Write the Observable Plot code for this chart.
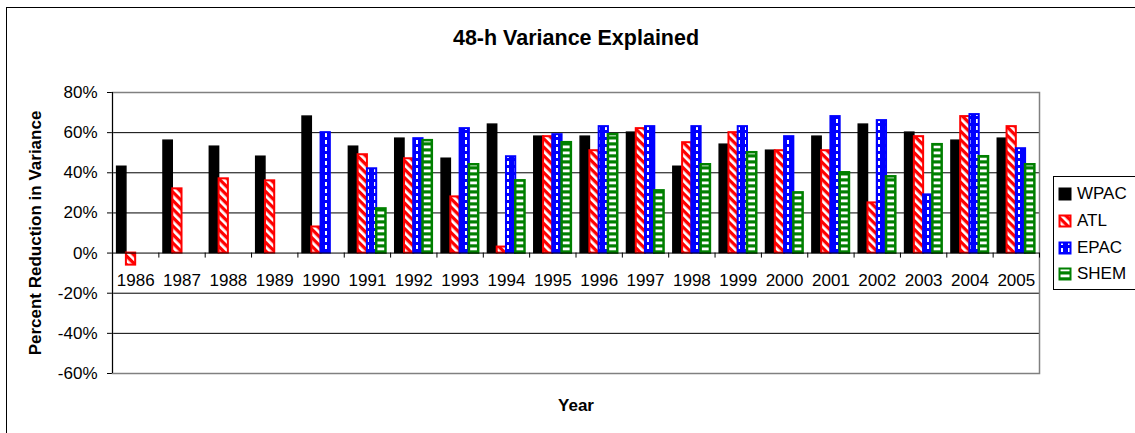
<!DOCTYPE html>
<html>
<head>
<meta charset="utf-8">
<script src="https://cdn.jsdelivr.net/npm/d3@7"></script>
<script src="https://cdn.jsdelivr.net/npm/@observablehq/plot@0.6"></script>
<style>
  body { margin: 0; background: #fff; overflow: hidden; font-family: "Liberation Sans", Arial, sans-serif; }
  #chart { position: relative; width: 1135px; height: 433px; overflow: hidden; background: #fff; }
  #border { position: absolute; left: 6px; top: 7px; width: 1400px; height: 700px;
            border-left: 1.5px solid #000; border-top: 1.5px solid #000; }
  #plot { position: absolute; left: 0; top: 0; }
  #legend { position: absolute; left: 1053px; top: 176px; width: 120px; height: 112px;
            border: 1px solid #000; background: #fff; }
  .item { position: absolute; left: 4px; height: 20px; display: flex; align-items: center;
          font-size: 17px; color: #000; white-space: nowrap; }
  .item svg { margin-right: 5px; }
  #defs { position: absolute; width: 0; height: 0; }
</style>
</head>
<body>
<!-- fill patterns shared by the bars and the legend swatches -->
<svg id="defs" width="0" height="0">
  <defs>
    <pattern id="pat-atl" width="6" height="6" patternUnits="userSpaceOnUse" patternTransform="rotate(-45)">
      <rect width="6" height="6" fill="#ff0000"></rect>
      <rect x="0" y="0" width="2.7" height="6" fill="#ffffff"></rect>
    </pattern>
    <pattern id="pat-epac" width="7" height="7" patternUnits="userSpaceOnUse">
      <rect width="7" height="7" fill="#0000ff"></rect>
      <rect x="3" y="0" width="2" height="4" fill="#ffffff"></rect>
    </pattern>
    <pattern id="pat-shem" width="20" height="6" patternUnits="userSpaceOnUse">
      <rect width="20" height="6" fill="#008000"></rect>
      <rect x="0" y="1.5" width="20" height="2.8" fill="#ffffff"></rect>
    </pattern>
  </defs>
</svg>

<div id="chart">
  <div id="border"></div>
  <div id="plot"></div>
  <div id="legend"></div>
</div>

<script>
// Years on the category axis
const years = [1986, 1987, 1988, 1989, 1990, 1991, 1992, 1993, 1994, 1995,
               1996, 1997, 1998, 1999, 2000, 2001, 2002, 2003, 2004, 2005];

// Percent reduction in 48-h forecast variance, by basin (null = no value)
const wpac = [43, 56, 53, 48, 68, 53, 57, 47, 64, 58, 58, 60, 43, 54, 51, 58, 64, 60, 56, 57];
const atl  = [-6, 32, 37, 36, 13, 49, 47, 28, 3, 58, 51, 62, 55, 60, 51, 51, 25, 58, 68, 63];
const epac = [null, null, null, null, 60, 42, 57, 62, 48, 59, 63, 63, 63, 63, 58, 68, 66, 29, 69, 52];
const shem = [null, null, null, null, null, 22, 56, 44, 36, 55, 59, 31, 44, 50, 30, 40, 38, 54, 48, 44];

const seriesNames = ["WPAC", "ATL", "EPAC", "SHEM"];
const yTicks = [-60, -40, -20, 0, 20, 40, 60, 80];

// Bar appearance for each basin
const styles = [
  {fill: "#000000", stroke: "#000000", strokeWidth: 1.5},
  {fill: "url(#pat-atl)", stroke: "#ff0000", strokeWidth: 2},
  {fill: "url(#pat-epac)", stroke: "#0000ff", strokeWidth: 2},
  {fill: "url(#pat-shem)", stroke: "#008000", strokeWidth: 2.5}
];

const seriesValues = [wpac, atl, epac, shem];
const groupWidth = 0.8;                       // share of a year slot taken by the four bars
const barWidth = groupWidth / seriesNames.length;

const barMarks = seriesValues.map((vals, k) => {
  const rows = years.map((year, i) => ({year, value: vals[i]})).filter(d => d.value != null);
  return Plot.rectY(rows, {
    x1: d => d.year - groupWidth / 2 + k * barWidth,
    x2: d => d.year - groupWidth / 2 + (k + 1) * barWidth,
    y1: () => 0,
    y2: "value",
    ...styles[k]
  });
});

const boundaries = [years[0] - 0.5, ...years.map(y => y + 0.5)];

const chart = Plot.plot({
  width: 1135,
  height: 433,
  marginLeft: 112,
  marginRight: 96,
  marginTop: 92,
  marginBottom: 60,
  style: {fontFamily: "'Liberation Sans', Arial, sans-serif", fontSize: "17px", color: "#000", background: "transparent"},
  x: {domain: [years[0] - 0.5, years[years.length - 1] + 0.5], axis: null},
  y: {domain: [-60, 80], ticks: yTicks, tickFormat: d => d + "%", tickSize: 5, tickPadding: 10, label: null},
  marks: [
    Plot.ruleY(yTicks.filter(t => t !== 0 && t !== 80), {stroke: "#000", strokeWidth: 1}),
    Plot.frame({stroke: "#808080", strokeWidth: 1.5}),
    ...barMarks,
    Plot.ruleY([0], {stroke: "#000", strokeWidth: 1}),
    Plot.ruleX([boundaries[0]], {stroke: "#000", strokeWidth: 1}),
    Plot.ruleX(boundaries, {y1: () => 0, y2: () => -2.5, stroke: "#000", strokeWidth: 1}),
    Plot.text(years, {x: d => d, y: () => 0, text: d => String(d), dy: 27, fontSize: 17}),
    Plot.text(["48-h Variance Explained"], {frameAnchor: "top", dy: -63, fontSize: 21.5, fontWeight: "bold"}),
    Plot.text(["Year"], {frameAnchor: "bottom", dy: 37, fontSize: 17, fontWeight: "bold"}),
    Plot.text(["Percent Reduction in Variance"], {frameAnchor: "left", textAnchor: "middle", dx: -77, rotate: -90, fontSize: 17, fontWeight: "bold"})
  ]
});
document.getElementById("plot").appendChild(chart);

// Legend with patterned swatches
const legend = document.getElementById("legend");
const rowTops = [7, 34, 61, 87];
seriesNames.forEach((name, k) => {
  const item = document.createElement("div");
  item.className = "item";
  item.style.top = rowTops[k] + "px";
  const s = styles[k];
  item.innerHTML =
    `<svg width="14" height="14"><rect x="1.5" y="1.5" width="11" height="11" fill="${s.fill}" stroke="${s.stroke}" stroke-width="2"></rect></svg>` +
    `<span>${name}</span>`;
  legend.appendChild(item);
});
</script>
</body>
</html>
